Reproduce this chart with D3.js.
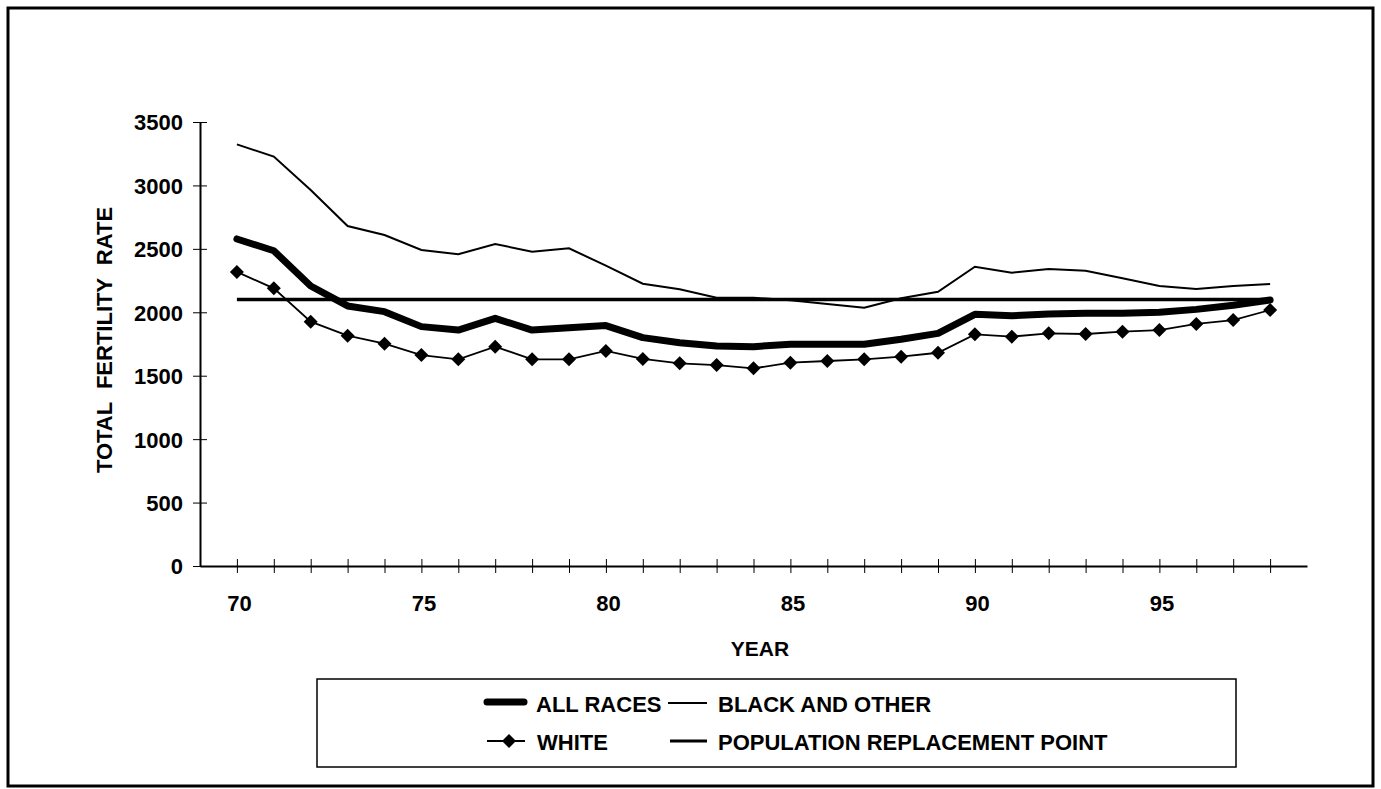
<!DOCTYPE html>
<html>
<head>
<meta charset="utf-8">
<script src="https://cdn.jsdelivr.net/npm/d3@7"></script>
<style>
  body { margin: 0; background: #fff; }
  svg { display: block; }
  text { font-family: "Liberation Sans", Arial, sans-serif; font-weight: bold; fill: #000; }
</style>
</head>
<body>
<svg id="chart" width="1381" height="789"></svg>
<script>
// values
let years = [70, 71, 72, 73, 74, 75, 76, 77, 78, 79, 80, 81, 82, 83, 84, 85, 86, 87, 88, 89, 90, 91, 92, 93, 94, 95, 96, 97, 98]
let allRaces = [2578, 2485, 2207, 2050, 2005, 1887, 1860, 1952, 1860, 1879, 1895, 1800, 1760, 1734, 1729, 1748, 1748, 1748, 1787, 1834, 1984, 1973, 1987, 1992, 1992, 2000, 2023, 2055, 2097]
let blackOther = [3324, 3227, 2964, 2680, 2609, 2491, 2457, 2538, 2478, 2504, 2368, 2225, 2181, 2115, 2115, 2095, 2065, 2036, 2110, 2162, 2359, 2312, 2341, 2328, 2268, 2207, 2184, 2207, 2223]
let white = [2318, 2189, 1926, 1816, 1752, 1663, 1629, 1729, 1629, 1629, 1695, 1632, 1598, 1584, 1558, 1603, 1616, 1629, 1650, 1681, 1826, 1808, 1834, 1829, 1847, 1860, 1908, 1939, 2018]
let replacementPoint = 2100
let yTicks = [0, 500, 1000, 1500, 2000, 2500, 3000, 3500]
let xLabels = [70, 75, 80, 85, 90, 95]

let svg = d3.select("#chart")

// outer frame
svg.append("rect")
  .attr("x", 8).attr("y", 8)
  .attr("width", 1365).attr("height", 778)
  .attr("fill", "none").attr("stroke", "#000").attr("stroke-width", 3)

let x = d3.scaleLinear().domain([69, 99]).range([200, 1307])
let y = d3.scaleLinear().domain([0, 3500]).range([566, 122])

// x axis
let xAxis = svg.append("g")
  .attr("transform", "translate(0,566)")
  .call(d3.axisBottom(x).tickValues(years).tickSizeOuter(0)
    .tickFormat(function(d) { return xLabels.includes(d) ? d : "" }))

xAxis.select(".domain").attr("stroke-width", 2)
xAxis.selectAll(".tick line").attr("y1", -7).attr("y2", 7).attr("stroke-width", 1)
xAxis.selectAll(".tick text")
  .attr("y", 45).attr("dy", 0).attr("dx", 2)
  .attr("font-size", "22px").attr("font-family", null)

// y axis
let yAxis = svg.append("g")
  .attr("transform", "translate(200,0)")
  .call(d3.axisLeft(y).tickValues(yTicks).tickSizeOuter(0).tickFormat(d3.format("d")))

yAxis.select(".domain").attr("stroke-width", 2)
yAxis.selectAll(".tick line").attr("x1", -7).attr("x2", 7).attr("stroke-width", 1)
yAxis.selectAll(".tick text")
  .attr("x", -17).attr("dy", "0.36em")
  .attr("font-size", "22px").attr("font-family", null)

// axis titles
svg.append("text")
  .attr("transform", "translate(112,340) rotate(-90)")
  .attr("text-anchor", "middle")
  .attr("font-size", "22px")
  .attr("word-spacing", "7px")
  .text("TOTAL FERTILITY RATE")

svg.append("text")
  .attr("x", 760).attr("y", 656)
  .attr("text-anchor", "middle")
  .attr("font-size", "21px")
  .text("YEAR")

// series
let line = d3.line()
  .x(function(d, i) { return x(years[i]) })
  .y(function(d) { return y(d) })

svg.append("line")
  .attr("x1", x(years[0])).attr("x2", x(years[years.length - 1]))
  .attr("y1", y(replacementPoint)).attr("y2", y(replacementPoint))
  .attr("stroke", "#000").attr("stroke-width", 3.5)

svg.append("path")
  .attr("d", line(blackOther))
  .attr("fill", "none").attr("stroke", "#000").attr("stroke-width", 2)

svg.append("path")
  .attr("d", line(white))
  .attr("fill", "none").attr("stroke", "#000").attr("stroke-width", 1.8)

let diamond = "M0,-7L7,0L0,7L-7,0Z"

svg.selectAll(".white-pt")
  .data(white)
  .enter()
  .append("path")
  .attr("class", "white-pt")
  .attr("d", diamond)
  .attr("transform", function(d, i) { return "translate(" + x(years[i]) + "," + y(d) + ")" })
  .attr("fill", "#000")

svg.append("path")
  .attr("d", line(allRaces))
  .attr("fill", "none").attr("stroke", "#000").attr("stroke-width", 7)
  .attr("stroke-linejoin", "round").attr("stroke-linecap", "round")

// legend
let legend = svg.append("g")

legend.append("rect")
  .attr("x", 317).attr("y", 679)
  .attr("width", 919).attr("height", 88)
  .attr("fill", "none").attr("stroke", "#000").attr("stroke-width", 1.5)

legend.append("line")
  .attr("x1", 487).attr("x2", 524).attr("y1", 702).attr("y2", 702)
  .attr("stroke", "#000").attr("stroke-width", 7).attr("stroke-linecap", "round")

legend.append("line")
  .attr("x1", 668).attr("x2", 707).attr("y1", 703).attr("y2", 703)
  .attr("stroke", "#000").attr("stroke-width", 2)

legend.append("line")
  .attr("x1", 487).attr("x2", 525).attr("y1", 741).attr("y2", 741)
  .attr("stroke", "#000").attr("stroke-width", 1.8)

legend.append("path")
  .attr("d", diamond)
  .attr("transform", "translate(509,741)")
  .attr("fill", "#000")

legend.append("line")
  .attr("x1", 670).attr("x2", 707).attr("y1", 741).attr("y2", 741)
  .attr("stroke", "#000").attr("stroke-width", 3)

let legendText = [
  {label: "ALL RACES", x: 536, y: 712},
  {label: "BLACK AND OTHER", x: 718, y: 712},
  {label: "WHITE", x: 537, y: 750},
  {label: "POPULATION REPLACEMENT POINT", x: 718, y: 750}
]

legend.selectAll(".legend-label")
  .data(legendText)
  .enter()
  .append("text")
  .attr("class", "legend-label")
  .attr("x", function(d) { return d.x })
  .attr("y", function(d) { return d.y })
  .attr("font-size", "22px")
  .text(function(d) { return d.label })
</script>
</body>
</html>
